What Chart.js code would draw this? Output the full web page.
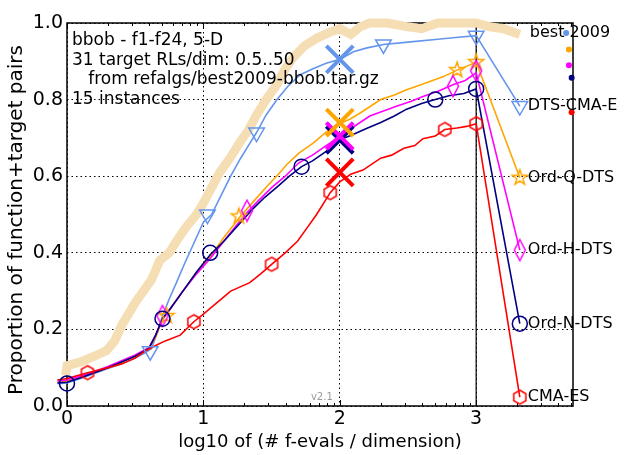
<!DOCTYPE html>
<html>
<head>
<meta charset="utf-8">
<script src="https://cdn.jsdelivr.net/npm/chart.js@4.4.1/dist/chart.umd.min.js"></script>
<style>
  html, body { margin: 0; padding: 0; background: #fff; }
  canvas { display: block; }
</style>
</head>
<body>
<canvas id="ecdf" width="626" height="455"></canvas>
<script>
/* ═══════════════════════════════════════════════
   bbob ECDF plot
═══════════════════════════════════════════════ */

const X_TICKS = [0, 1, 2, 3];
const Y_TICKS = [0, 0.2, 0.4, 0.6, 0.8, 1.0];

const X_TITLE = 'log10 of (# f-evals / dimension)';
const Y_TITLE = 'Proportion of function+target pairs';

const INFO_LINES = [
  'bbob - f1-f24, 5-D',
  '31 target RLs/dim: 0.5..50',
  '   from refalgs/best2009-bbob.tar.gz',
  '15 instances'
];

/* legend labels on the right, with the y they sit at */
const LEGEND_NAMES = ['best 2009', 'DTS-CMA-E', 'Ord-Q-DTS', 'Ord-H-DTS', 'Ord-N-DTS', 'CMA-ES'];
const LEGEND_Y     = [0.975, 0.783, 0.596, 0.407, 0.215, 0.023];
const LEGEND_X     = 3.32;

/* best 2009 */
const BEST_X = [-0.08, -0.01, 0.0, 0.1, 0.2, 0.29, 0.35, 0.4, 0.45, 0.5, 0.56, 0.62, 0.68, 0.75, 0.82, 0.88, 0.95, 1.0,
                1.06, 1.12, 1.2, 1.27, 1.33, 1.39, 1.46, 1.54, 1.6, 1.66, 1.74, 1.83, 1.92, 2.0, 2.08, 2.15, 2.22,
                2.35, 2.5, 2.6, 2.72, 2.85, 3.0, 3.1, 3.2, 3.32];
const BEST_Y = [0.075, 0.08, 0.105, 0.115, 0.13, 0.145, 0.17, 0.21, 0.24, 0.27, 0.30, 0.33, 0.38, 0.40, 0.44, 0.47, 0.50, 0.53,
                0.57, 0.61, 0.65, 0.69, 0.72, 0.76, 0.80, 0.84, 0.88, 0.91, 0.94, 0.96, 0.975, 0.985, 0.97, 0.99, 1.0,
                1.0, 0.99, 0.985, 1.0, 1.0, 1.0, 0.99, 0.985, 0.97];

/* DTS-CMA-E */
const DTS_X = [-0.07, 0.0, 0.1, 0.2, 0.3, 0.4, 0.5, 0.58, 0.62, 0.66, 0.7, 0.75, 0.8, 0.86, 0.93, 1.0, 1.06, 1.13, 1.2,
               1.27, 1.33, 1.39, 1.46, 1.54, 1.62, 1.71, 1.8, 1.9, 2.0, 2.1, 2.2, 2.32, 2.5, 2.7, 2.85, 3.0, 3.32];
const DTS_Y = [0.058, 0.06, 0.072, 0.085, 0.098, 0.11, 0.125, 0.14, 0.15, 0.19, 0.235, 0.28, 0.32, 0.37, 0.425, 0.48, 0.50,
               0.55, 0.60, 0.645, 0.68, 0.714, 0.76, 0.80, 0.835, 0.865, 0.88, 0.895, 0.905, 0.925, 0.935, 0.944, 0.95,
               0.957, 0.962, 0.967, 0.783];
const DTS_MX = [0.61, 1.03, 1.39, 2.32, 3.0, 3.32];
const DTS_MY = [0.143, 0.50, 0.714, 0.944, 0.967, 0.783];

/* Ord-Q-DTS */
const ORDQ_X = [-0.07, 0.0, 0.1, 0.2, 0.3, 0.4, 0.5, 0.6, 0.65, 0.7, 0.76, 0.85, 0.95, 1.05, 1.15, 1.27, 1.37, 1.47, 1.55,
                1.61, 1.7, 1.8, 1.9, 2.0, 2.08, 2.15, 2.3, 2.4, 2.49, 2.58, 2.66, 2.76, 2.86, 2.95, 3.0, 3.32];
const ORDQ_Y = [0.062, 0.065, 0.075, 0.088, 0.10, 0.115, 0.13, 0.15, 0.18, 0.225, 0.255, 0.30, 0.35, 0.39, 0.44, 0.495,
                0.535, 0.575, 0.605, 0.63, 0.66, 0.685, 0.715, 0.737, 0.75, 0.765, 0.80, 0.812, 0.826, 0.837, 0.847,
                0.86, 0.877, 0.89, 0.898, 0.596];
const ORDQ_MX = [0.73, 1.26, 2.86, 3.0, 3.32];
const ORDQ_MY = [0.235, 0.495, 0.877, 0.898, 0.596];

/* Ord-H-DTS */
const ORDH_X = [-0.07, 0.0, 0.1, 0.2, 0.3, 0.4, 0.5, 0.6, 0.65, 0.7, 0.76, 0.85, 0.95, 1.05, 1.15, 1.25, 1.32, 1.4, 1.5,
                1.6, 1.7, 1.8, 1.9, 2.0, 2.08, 2.22, 2.32, 2.42, 2.52, 2.61, 2.72, 2.83, 2.92, 3.0, 3.32];
const ORDH_Y = [0.065, 0.068, 0.078, 0.09, 0.103, 0.118, 0.133, 0.152, 0.185, 0.228, 0.255, 0.30, 0.345, 0.385, 0.43,
                0.475, 0.505, 0.535, 0.57, 0.60, 0.635, 0.655, 0.68, 0.703, 0.724, 0.757, 0.77, 0.783, 0.795, 0.808,
                0.822, 0.839, 0.85, 0.87, 0.407];
const ORDH_MX = [-0.1, 0.7, 1.32, 2.83, 3.0, 3.32];
const ORDH_MY = [0.06, 0.235, 0.51, 0.835, 0.875, 0.407];

/* Ord-N-DTS */
const ORDN_X = [-0.07, 0.0, 0.1, 0.2, 0.3, 0.4, 0.5, 0.6, 0.65, 0.7, 0.76, 0.85, 0.95, 1.05, 1.15, 1.25, 1.35, 1.45, 1.55,
                1.63, 1.72, 1.8, 1.9, 2.0, 2.08, 2.2, 2.3, 2.4, 2.49, 2.6, 2.7, 2.8, 2.91, 3.0, 3.32];
const ORDN_Y = [0.06, 0.062, 0.074, 0.087, 0.10, 0.115, 0.13, 0.15, 0.185, 0.228, 0.255, 0.30, 0.35, 0.395, 0.43, 0.47,
                0.51, 0.545, 0.575, 0.60, 0.625, 0.64, 0.665, 0.695, 0.706, 0.725, 0.74, 0.757, 0.775, 0.79, 0.80,
                0.81, 0.816, 0.828, 0.215];
const ORDN_MX = [0.0, 0.7, 1.05, 1.72, 2.7, 3.0, 3.32];
const ORDN_MY = [0.059, 0.228, 0.40, 0.625, 0.80, 0.828, 0.215];

/* CMA-ES */
const CMA_X = [-0.07, 0.0, 0.15, 0.3, 0.4, 0.5, 0.57, 0.65, 0.72, 0.83, 0.93, 1.0, 1.1, 1.2, 1.34, 1.42, 1.5, 1.6, 1.69,
               1.76, 1.83, 1.93, 2.0, 2.08, 2.17, 2.3, 2.38, 2.47, 2.55, 2.61, 2.7, 2.77, 2.86, 2.93, 3.0, 3.32];
const CMA_Y = [0.068, 0.072, 0.087, 0.10, 0.11, 0.125, 0.143, 0.158, 0.17, 0.185, 0.22, 0.24, 0.27, 0.30, 0.322, 0.345,
               0.37, 0.40, 0.43, 0.465, 0.50, 0.557, 0.585, 0.605, 0.616, 0.647, 0.655, 0.673, 0.68, 0.698, 0.705,
               0.722, 0.726, 0.73, 0.737, 0.023];
const CMA_MX = [0.15, 0.93, 1.5, 1.93, 2.77, 3.0, 3.32];
const CMA_MY = [0.087, 0.22, 0.37, 0.557, 0.722, 0.737, 0.023];

/* big crosses at x = 2 (DTS, Ord-N, Ord-H, Ord-Q, CMA-ES) */
const CROSS_X = 2;
const CROSS_Y = [0.905, 0.695, 0.705, 0.74, 0.61];

/* small dots on the right frame (DTS, Ord-Q, Ord-H, Ord-N, CMA-ES) */
const DOT_X = [3.66, 3.68, 3.68, 3.7, 3.7];
const DOT_Y = [0.974, 0.931, 0.89, 0.857, 0.767];

const VLINE_X = 3;

/* colours */
const C_BEST = '#F5DEB3', C_DTS = '#6495ED', C_Q = '#FFA500', C_H = '#FF00FF', C_N = '#000080', C_CMA = '#FF0000';
const FONT = "'DejaVu Sans', sans-serif";

/* Helper: zip two arrays into {x, y} points */
function pts(xs, ys) { return xs.map((x, i) => ({ x, y: ys[i] })); }

/* Helper: small offscreen canvas used as a point style */
function markerCanvas(w, h, color, path) {
  const c = document.createElement('canvas');
  c.width = w; c.height = h;
  const g = c.getContext('2d');
  g.strokeStyle = color; g.lineWidth = 1.5; g.lineJoin = 'miter';
  g.beginPath(); path(g, w / 2, h / 2); g.closePath(); g.stroke();
  return c;
}

const hexMark = markerCanvas(18, 18, C_CMA, (g, cx, cy) => {
  for (let i = 0; i < 6; i++) {
    const a = -Math.PI / 2 + i * Math.PI / 3;
    g.lineTo(cx + 7 * Math.cos(a), cy + 7 * Math.sin(a));
  }
});
const starMark = markerCanvas(20, 20, C_Q, (g, cx, cy) => {
  for (let i = 0; i < 10; i++) {
    const a = -Math.PI / 2 + i * Math.PI / 5, r = i % 2 ? 3.2 : 8;
    g.lineTo(cx + r * Math.cos(a), cy + r * Math.sin(a));
  }
});
const diamondMark = markerCanvas(14, 24, C_H, (g, cx, cy) => {
  g.moveTo(cx, cy - 10.5); g.lineTo(cx + 5.5, cy); g.lineTo(cx, cy + 10.5); g.lineTo(cx - 5.5, cy);
});

function lineSet(xs, ys, color, width) {
  return { data: pts(xs, ys), showLine: true, borderColor: color, borderWidth: width, pointRadius: 0,
           tension: 0, clip: false, fill: false };
}
function markSet(xs, ys, color, style, radius, rotation) {
  return { data: pts(xs, ys), showLine: false, pointStyle: style, pointRadius: radius, pointRotation: rotation || 0,
           pointBorderColor: color, pointBackgroundColor: 'rgba(0,0,0,0)', pointBorderWidth: 1.5, clip: false };
}

/* bottom → top */
const layers = [
  { data: [{ x: VLINE_X, y: 0 }, { x: VLINE_X, y: 1 }], showLine: true, borderColor: '#000', borderWidth: 1.2,
    pointRadius: 0, clip: false },
  lineSet(BEST_X, BEST_Y, C_BEST, 9),
  lineSet(DTS_X, DTS_Y, C_DTS, 1.6),
  lineSet(ORDQ_X, ORDQ_Y, C_Q, 1.6),
  lineSet(ORDH_X, ORDH_Y, C_H, 1.6),
  lineSet(ORDN_X, ORDN_Y, C_N, 1.6),
  lineSet(CMA_X, CMA_Y, C_CMA, 1.6),
  markSet(DTS_MX, DTS_MY, C_DTS, 'triangle', 9, 180),
  markSet(ORDQ_MX, ORDQ_MY, C_Q, starMark, 8),
  markSet(ORDH_MX, ORDH_MY, C_H, diamondMark, 8),
  markSet(ORDN_MX, ORDN_MY, C_N, 'circle', 7.5),
  markSet(CMA_MX, CMA_MY, C_CMA, hexMark, 8),
  { data: CROSS_Y.map(y => ({ x: CROSS_X, y })), showLine: false, pointStyle: 'crossRot', pointRadius: 19,
    pointBorderWidth: 4, pointBorderColor: [C_DTS, C_N, C_H, C_Q, C_CMA], clip: false },
  { data: pts(DOT_X, DOT_Y), showLine: false, pointStyle: 'circle', pointRadius: 3, pointBorderWidth: 0,
    pointBackgroundColor: [C_DTS, C_Q, C_H, C_N, C_CMA], clip: false }
];
layers.forEach((d, i) => { d.order = layers.length - i; });

/* frame, minor ticks and all free text */
const decor = {
  id: 'decor',
  beforeDatasetsDraw(chart) {
    const { ctx, chartArea: a, scales: { x } } = chart;
    ctx.save();
    ctx.strokeStyle = '#000';
    ctx.lineWidth = 1;
    ctx.beginPath();
    for (let d = 0; d < 4; d++) {
      for (let k = 1; k < 10; k++) {
        const v = d + Math.log10(k);
        if (v > x.max) break;
        const px = Math.round(x.getPixelForValue(v)) + 0.5, len = k === 1 ? 6 : 3;
        ctx.moveTo(px, a.bottom); ctx.lineTo(px, a.bottom - len);
        ctx.moveTo(px, a.top); ctx.lineTo(px, a.top + len);
      }
    }
    ctx.stroke();
    ctx.lineWidth = 1.5;
    ctx.strokeRect(a.left, a.top, a.right - a.left, a.bottom - a.top);
    ctx.restore();
  },
  afterDraw(chart) {
    const { ctx, chartArea: a, scales: { x, y } } = chart;
    ctx.save();
    ctx.fillStyle = '#000';
    ctx.textBaseline = 'alphabetic';
    ctx.font = '17px ' + FONT;
    INFO_LINES.forEach((s, i) => ctx.fillText(s, a.left + 5, a.top + 22 + i * 19.5));

    ctx.font = '16px ' + FONT;
    ctx.textBaseline = 'middle';
    const lx = x.getPixelForValue(LEGEND_X) + 8;
    LEGEND_NAMES.forEach((s, i) => ctx.fillText(s, i === 0 ? lx + 2 : lx, y.getPixelForValue(LEGEND_Y[i])));

    /* y-axis title, a little below the plot centre as in the reference */
    ctx.save();
    ctx.font = '20px ' + FONT;
    ctx.textAlign = 'center';
    ctx.translate(17, 220);
    ctx.rotate(-Math.PI / 2);
    ctx.fillText(Y_TITLE, 0, 0);
    ctx.restore();

    ctx.font = '10px ' + FONT;
    ctx.fillStyle = '#999';
    ctx.textAlign = 'right';
    ctx.textBaseline = 'alphabetic';
    ctx.fillText('v2.1', x.getPixelForValue(2) - 7, a.bottom - 6);
    ctx.restore();
  }
};

new Chart(document.getElementById('ecdf'), {
  type: 'scatter',
  data: { datasets: layers },
  plugins: [decor],
  options: {
    responsive: false,
    animation: false,
    devicePixelRatio: 1,
    layout: { padding: { top: 15, right: 53, left: 0, bottom: 0 } },
    plugins: { legend: { display: false }, tooltip: { enabled: false } },
    scales: {
      x: {
        type: 'linear', min: 0, max: 3.71,
        afterBuildTicks: s => { s.ticks = X_TICKS.map(v => ({ value: v })); },
        afterFit: s => { s.height = 49; },
        ticks: { color: '#000', font: { family: FONT, size: 19 }, padding: 2, maxRotation: 0,
                 callback: v => String(v) },
        grid: { color: '#000', lineWidth: 1, drawTicks: false },
        border: { display: false, dash: [1.5, 3] },
        title: { display: true, text: X_TITLE, color: '#000',
                 font: { family: FONT, size: 18 }, padding: { top: 0, bottom: 2 } }
      },
      y: {
        min: 0, max: 1,
        afterBuildTicks: s => { s.ticks = Y_TICKS.map(v => ({ value: v })); },
        afterFit: s => { s.width = 67; },
        ticks: { color: '#000', font: { family: FONT, size: 19 }, padding: 4,
                 callback: v => v.toFixed(1) },
        grid: { color: '#000', lineWidth: 1, drawTicks: false },
        border: { display: false, dash: [1.5, 3] },
        title: { display: false }
      }
    }
  }
});
</script>
</body>
</html>
